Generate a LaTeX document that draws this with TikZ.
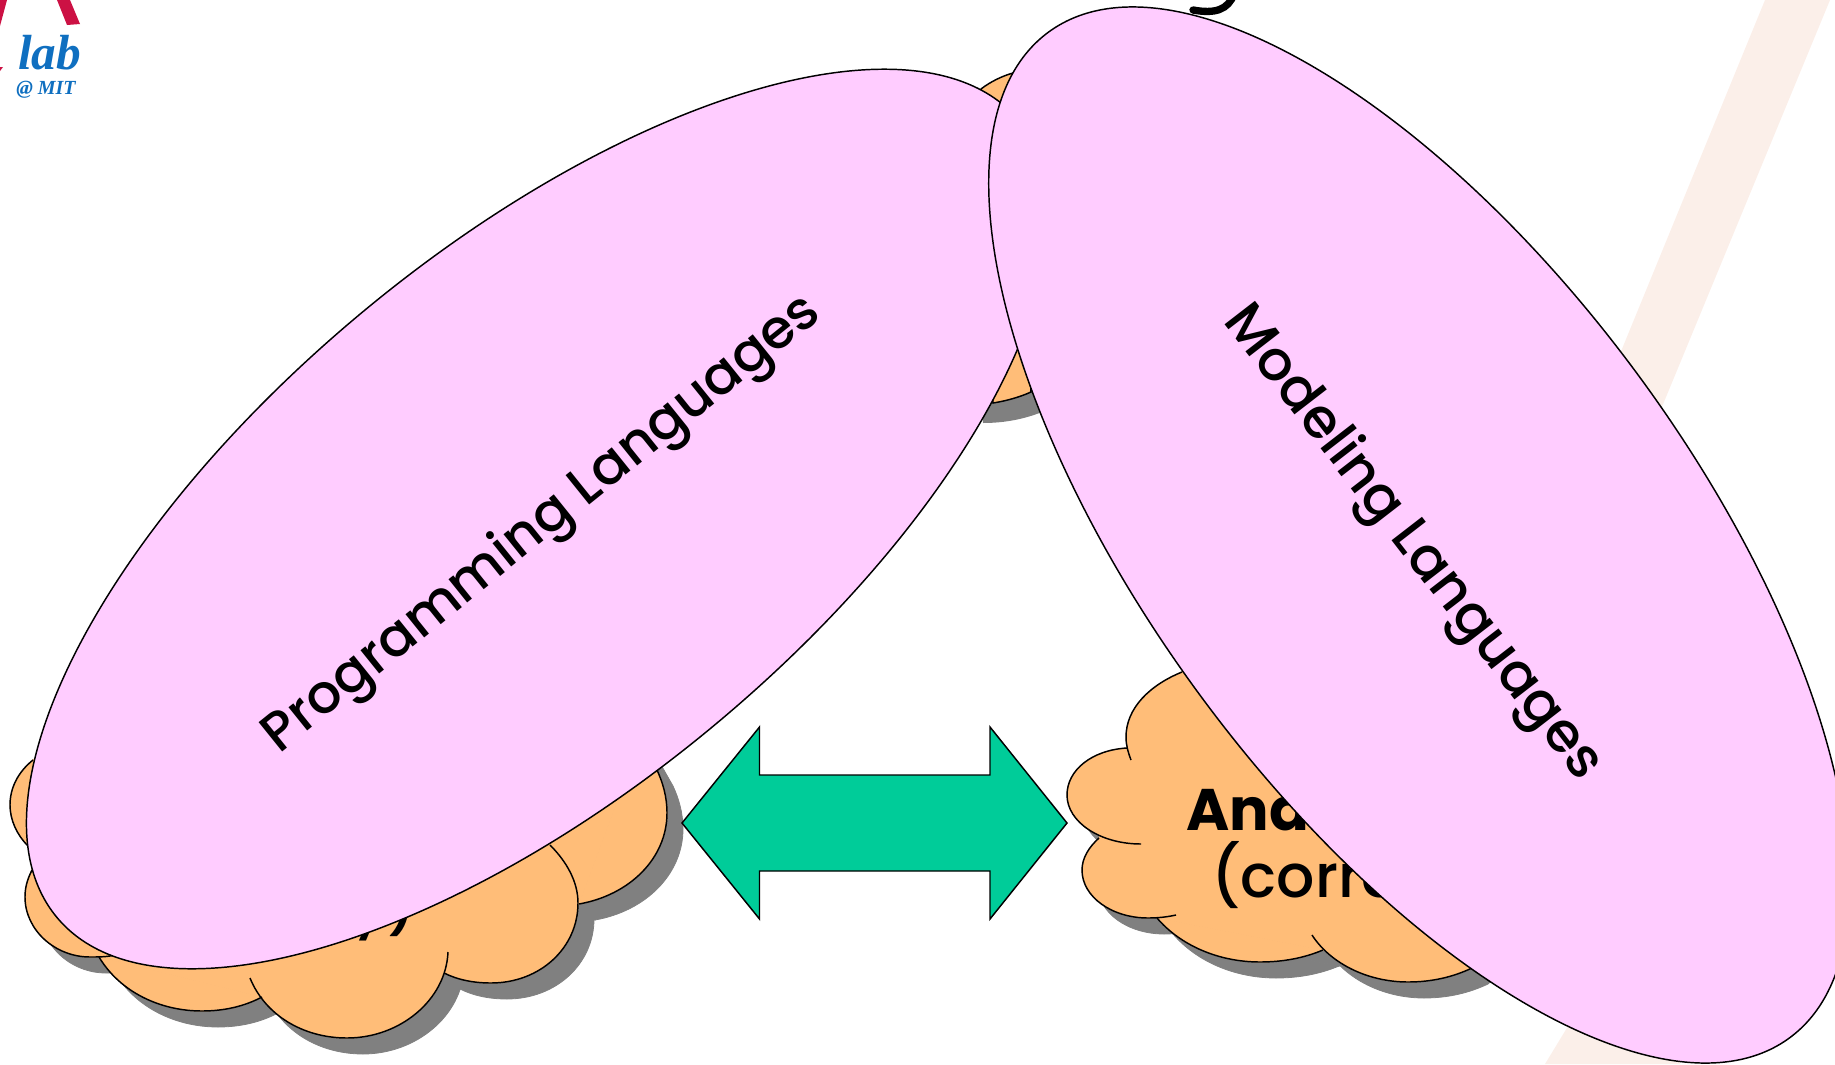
\documentclass[tikz,border=0pt]{standalone}
\usepackage{fontspec}
\setmainfont{Poppins}
\newfontfamily\medfont{Poppins Medium}
\newfontfamily\logofont{Liberation Serif}
\usetikzlibrary{shapes.geometric}
\definecolor{lobeorange}{HTML}{FFBD78}
\definecolor{bubblepink}{HTML}{FFCCFF}
\definecolor{arrowgreen}{HTML}{00CC99}
\definecolor{stripetint}{HTML}{FBEFE9}
\definecolor{shadowgray}{HTML}{808080}
\definecolor{logored}{HTML}{CC1144}
\definecolor{logoblue}{HTML}{0F6FC0}
\tikzset{
  bubble/.style={ellipse,draw=black,fill=bubblepink,line width=1.1pt,inner sep=0pt,
    minimum width=937pt,minimum height=407pt},
  bubbletext/.style={inner sep=0pt,text=black},
  lobefill/.style={fill=lobeorange,draw=lobeorange,line width=0.6pt},
  lobeshadow/.style={fill=shadowgray,draw=shadowgray,line width=0.6pt,xshift=12pt,yshift=-12pt},
  lobeline/.style={draw=black,line width=1.1pt,fill=none},
}
\newcommand{\LeftLobes}[2]{%
  \path[#1] (33,760) .. controls (18,772) and (10,788) .. (10,805) .. controls (10,820) and (17,835) .. (28,846) #2;
  \path[#1] (32,870) .. controls (27,880) and (25,888) .. (25,897) .. controls (25,930) and (55,957) .. (90,957) .. controls (98,957) and (107,957) .. (115,955) #2;
  \path[#1] (99,957) .. controls (120,992) and (160,1011) .. (202,1011) .. controls (225,1011) and (245,1006) .. (262,997) #2;
  \path[#1] (250,978) .. controls (265,1015) and (303,1038) .. (347,1038) .. controls (400,1038) and (446,1000) .. (448,952) #2;
  \path[#1] (444,973) .. controls (458,980) and (474,983) .. (491,983) .. controls (540,983) and (578,948) .. (578,903) .. controls (578,882) and (567,862) .. (550,845) #2;
  \path[#1] (579,904) .. controls (630,895) and (667,858) .. (667,813) .. controls (667,797) and (663,783) .. (657,770) -- (640,740) #2;
}
\newcommand{\LeftBody}[1]{%
  \path[#1] (33,760) -- (28,846) -- (32,870) -- (99,957) -- (262,997) -- (448,952) -- (444,973) -- (578,903) -- (579,904) -- (640,740) -- (640,700) -- (100,700) -- cycle;
}
\newcommand{\RightLobes}[2]{%
  \path[#1] (1182,672) .. controls (1150,685) and (1126,708) .. (1126,737) .. controls (1126,745) and (1128,752) .. (1131,760) #2;
  \path[#1] (1127,748) .. controls (1092,750) and (1067,770) .. (1067,795) .. controls (1067,822) and (1100,844) .. (1141,844) #2;
  \path[#1] (1099,838) .. controls (1089,847) and (1082,858) .. (1082,870) .. controls (1082,897) and (1112,918) .. (1148,918) .. controls (1158,918) and (1167,917) .. (1176,915) #2;
  \path[#1] (1157,918) .. controls (1180,945) and (1218,962) .. (1260,962) .. controls (1283,962) and (1304,958) .. (1323,950) #2;
  \path[#1] (1312,935) .. controls (1330,963) and (1367,982) .. (1408,982) .. controls (1432,982) and (1453,977) .. (1472,968) -- (1490,950) #2;
}
\newcommand{\RightBody}[1]{%
  \path[#1] (1182,672) -- (1127,748) -- (1099,838) -- (1157,918) -- (1323,950) -- (1490,950) -- (1500,700) -- (1300,650) -- cycle;
}
\begin{document}
\begin{tikzpicture}[x=0.75pt,y=-0.75pt]
\useasboundingbox (0,0) rectangle (1835,1064);
\clip (0,0) rectangle (1835,1064);
% background stripes
\fill[stripetint] (1765,0) -- (1830,0) -- (1640,460) -- (1590,427) -- cycle;
\fill[stripetint] (1545,1064) -- (1590,990) -- (1680,1000) -- (1680,1064) -- cycle;
% logo
\fill[logored] (57,0) -- (70,0) -- (80,24) -- (67,25) -- cycle;
\fill[logored] (0,0) -- (7,0) -- (0,26) -- cycle;
\fill[logored] (0,67) -- (3,67) -- (0,71) -- cycle;
\node[anchor=base west,inner sep=0pt,text=logoblue,font=\logofont\bfseries\itshape\fontsize{37}{37}\selectfont] (loglab) at (18,69) {lab};
\node[anchor=base west,inner sep=0pt,text=logoblue,font=\logofont\bfseries\itshape\fontsize{15}{15}\selectfont] (logmit) at (16,94) {@ MIT};
% title tail
\draw[black,line width=5.5pt,line cap=round] (1193,10) .. controls (1215,14) and (1228,10) .. (1234,-6);
% top cloud remnant
\fill[shadowgray] (975,110) -- (1040,100) -- (1042,412) .. controls (1022,420) and (1002,423) .. (983,423) -- cycle;
\draw[lobeline,fill=lobeorange] (981,89) .. controls (990,82) and (1002,76) .. (1013,73) -- (1031,392) .. controls (1020,397) and (1006,401) .. (993,403) -- cycle;
% left cloud
\LeftLobes{lobeshadow}{-- cycle}
\LeftBody{lobeshadow}
\LeftLobes{lobefill}{-- cycle}
\LeftBody{lobefill}
\LeftLobes{lobeline}{}
\node[anchor=base,inner sep=0pt,font=\medfont\fontsize{45}{45}\selectfont] (lefttail) at (385,925) {y)};
% right cloud
\RightLobes{lobeshadow}{-- cycle}
\RightBody{lobeshadow}
\RightLobes{lobefill}{-- cycle}
\RightBody{lobefill}
\RightLobes{lobeline}{}
\node[anchor=base west,inner sep=0pt,font=\bfseries\fontsize{44}{44}\selectfont] (analysis) at (1186,830) {Analysis};
\node[anchor=base west,inner sep=0pt,font=\medfont\fontsize{45}{45}\selectfont] (correct) at (1211,897) {(correctness)};
% double arrow
\draw[fill=arrowgreen,draw=black,line width=1.1pt,line join=miter]
  (682,823) -- (759.5,727) -- (759.5,775) -- (990,775) -- (990,727) -- (1067,823)
  -- (990,919) -- (990,871) -- (759.5,871) -- (759.5,919) -- cycle;
% bubbles
\node[bubble,rotate=39.6] (proglang) at (538,519) {};
\node[bubble,rotate=-53.6] (modlang) at (1419,535) {};
\node[bubbletext,rotate=38.8,font=\medfont\fontsize{40.6}{45}\selectfont] (progtext) at (543,525) {Programming Languages};
\node[bubbletext,rotate=-52.3,font=\medfont\fontsize{41.5}{45}\selectfont] (modtext) at (1412,544) {Modeling Languages};
\end{tikzpicture}
\end{document}
